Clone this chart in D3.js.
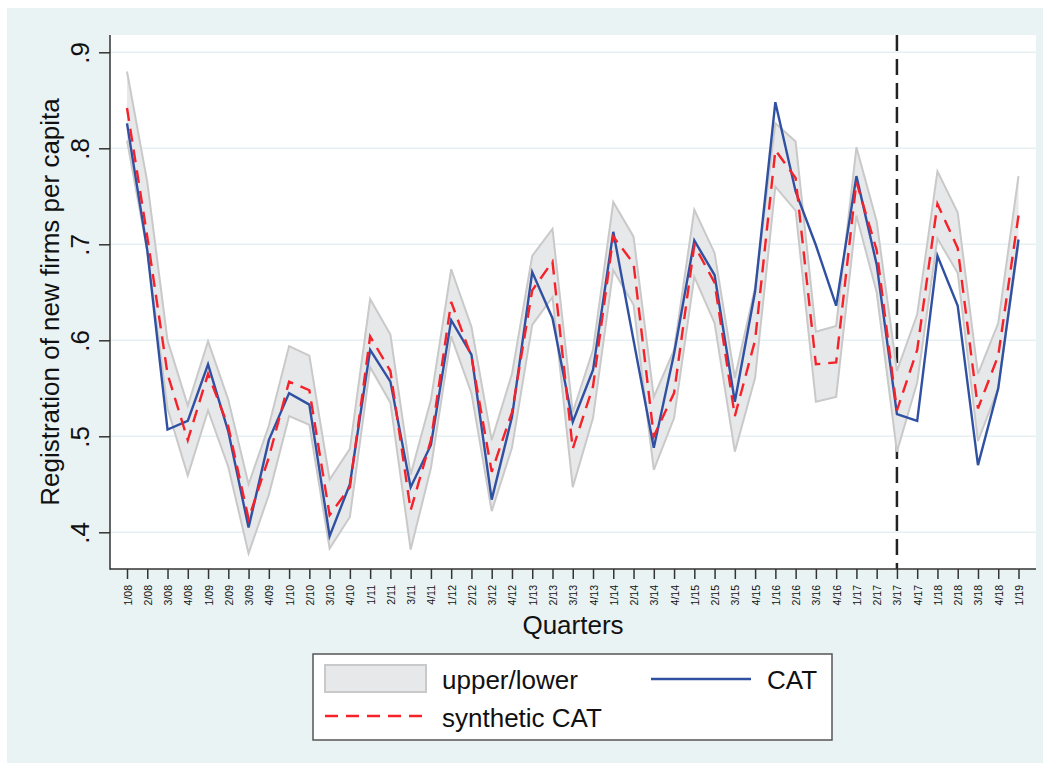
<!DOCTYPE html>
<meta charset="utf-8">

<style>

body {
  margin: 0;
  background: #fff;
}

text {
  font-family: "Liberation Sans", Arial, sans-serif;
  fill: #111;
}

.grid line {
  stroke: #e6f0f2;
  stroke-width: 1.5;
}

.band {
  fill: #e7e8e9;
}

.edge {
  fill: none;
  stroke: #c9c9c9;
  stroke-width: 2;
}

.cat {
  fill: none;
  stroke: #3050a2;
  stroke-width: 2.4;
}

.synth {
  fill: none;
  stroke: #f5222a;
  stroke-width: 2.4;
  stroke-dasharray: 13, 8;
}

</style>
<svg width="1050" height="771"></svg>
<script src="https://d3js.org/d3.v7.min.js"></script>
<script>

// quarters on the x axis
var quarters = ["1/08", "2/08", "3/08", "4/08", "1/09", "2/09", "3/09", "4/09",
  "1/10", "2/10", "3/10", "4/10", "1/11", "2/11", "3/11", "4/11",
  "1/12", "2/12", "3/12", "4/12", "1/13", "2/13", "3/13", "4/13",
  "1/14", "2/14", "3/14", "4/14", "1/15", "2/15", "3/15", "4/15",
  "1/16", "2/16", "3/16", "4/16", "1/17", "2/17", "3/17", "4/17",
  "1/18", "2/18", "3/18", "4/18", "1/19"];

var upper = [0.880, 0.765, 0.600, 0.532, 0.599, 0.538, 0.450, 0.511,
  0.594, 0.584, 0.455, 0.487, 0.643, 0.606, 0.460, 0.538,
  0.674, 0.614, 0.496, 0.565, 0.688, 0.716, 0.525, 0.590,
  0.744, 0.708, 0.541, 0.590, 0.736, 0.691, 0.561, 0.655,
  0.826, 0.807, 0.609, 0.615, 0.801, 0.724, 0.568, 0.627,
  0.776, 0.733, 0.565, 0.618, 0.771];

var lower = [0.808, 0.693, 0.529, 0.459, 0.527, 0.468, 0.378, 0.439,
  0.521, 0.512, 0.383, 0.416, 0.572, 0.535, 0.382, 0.467,
  0.604, 0.545, 0.422, 0.488, 0.616, 0.645, 0.447, 0.519,
  0.673, 0.637, 0.465, 0.519, 0.666, 0.618, 0.484, 0.561,
  0.760, 0.735, 0.536, 0.541, 0.730, 0.650, 0.484, 0.556,
  0.706, 0.670, 0.495, 0.550, 0.700];

var cat = [0.826, 0.694, 0.507, 0.516, 0.575, 0.505, 0.405, 0.496,
  0.545, 0.533, 0.396, 0.450, 0.590, 0.557, 0.447, 0.491,
  0.621, 0.585, 0.434, 0.520, 0.671, 0.623, 0.515, 0.569,
  0.713, 0.600, 0.488, 0.586, 0.704, 0.668, 0.536, 0.651,
  0.848, 0.755, 0.699, 0.636, 0.771, 0.679, 0.523, 0.516,
  0.688, 0.636, 0.470, 0.550, 0.705];

var synthetic = [0.842, 0.708, 0.565, 0.496, 0.565, 0.510, 0.414, 0.478,
  0.557, 0.548, 0.418, 0.447, 0.604, 0.568, 0.423, 0.496,
  0.640, 0.583, 0.463, 0.525, 0.652, 0.682, 0.487, 0.552,
  0.708, 0.680, 0.500, 0.545, 0.699, 0.660, 0.521, 0.600,
  0.798, 0.769, 0.575, 0.577, 0.765, 0.694, 0.527, 0.590,
  0.742, 0.696, 0.529, 0.584, 0.730];

var yTicks = [0.4, 0.5, 0.6, 0.7, 0.8, 0.9],
    treatQuarter = "3/17";

var svg = d3.select("svg"),
    width = +svg.attr("width"),
    height = +svg.attr("height");

var plotLeft = 110,
    plotRight = 1036,
    plotTop = 35,
    plotBottom = 569;

var x = d3.scalePoint().domain(quarters).range([127, 1018.5]),
    y = d3.scaleLinear().domain([0.4, 0.9]).range([532.3, 52.3]);

// outer graph region
svg.append("rect")
    .attr("x", 7).attr("y", 8)
    .attr("width", width - 14).attr("height", height - 16)
    .attr("fill", "#eaf3f4");

svg.append("rect")
    .attr("x", plotLeft).attr("y", plotTop)
    .attr("width", plotRight - plotLeft).attr("height", plotBottom - plotTop)
    .attr("fill", "#fff");

// horizontal grid
svg.append("g")
    .attr("class", "grid")
  .selectAll("line")
  .data(yTicks)
  .enter().append("line")
    .attr("x1", plotLeft).attr("x2", plotRight)
    .attr("y1", function(d) { return y(d); })
    .attr("y2", function(d) { return y(d); });

// treatment line, under the band
svg.append("line")
    .attr("x1", x(treatQuarter)).attr("x2", x(treatQuarter))
    .attr("y1", plotTop).attr("y2", plotBottom)
    .attr("stroke", "#222")
    .attr("stroke-width", 2.5)
    .attr("stroke-dasharray", "16,8");

var idx = d3.range(quarters.length);

var area = d3.area()
    .x(function(i) { return x(quarters[i]); })
    .y0(function(i) { return y(lower[i]); })
    .y1(function(i) { return y(upper[i]); });

function lineOf(values) {
  return d3.line()
      .x(function(i) { return x(quarters[i]); })
      .y(function(i) { return y(values[i]); });
}

svg.append("path").attr("class", "band").attr("d", area(idx));
svg.append("path").attr("class", "edge").attr("d", lineOf(upper)(idx));
svg.append("path").attr("class", "edge").attr("d", lineOf(lower)(idx));
svg.append("path").attr("class", "cat").attr("d", lineOf(cat)(idx));
svg.append("path").attr("class", "synth").attr("d", lineOf(synthetic)(idx));

// axes
var yAxis = svg.append("g")
    .attr("transform", "translate(" + plotLeft + ",0)")
    .call(d3.axisLeft(y).tickValues(yTicks).tickSize(11).tickPadding(0)
      .tickFormat(function(d) { return d3.format(".1f")(d).replace(/^0/, ""); }));

yAxis.select(".domain").remove();
yAxis.selectAll(".tick line").attr("stroke", "#333").attr("stroke-width", 1.5);
yAxis.selectAll(".tick text")
    .attr("x", null).attr("dy", null)
    .attr("text-anchor", "middle")
    .attr("transform", "translate(-21,0) rotate(-90)")
    .style("font-size", "26px");

var xAxis = svg.append("g")
    .attr("transform", "translate(0," + plotBottom + ")")
    .call(d3.axisBottom(x).tickSize(10).tickPadding(0));

xAxis.select(".domain").remove();
xAxis.selectAll(".tick line").attr("stroke", "#333").attr("stroke-width", 1.5);
xAxis.selectAll(".tick text")
    .attr("y", null).attr("dy", null)
    .attr("text-anchor", "end")
    .attr("transform", "translate(4,16) rotate(-90)")
    .style("font-size", "10.5px");

svg.append("line")
    .attr("x1", plotLeft).attr("x2", plotLeft)
    .attr("y1", plotTop).attr("y2", plotBottom + 0.75)
    .attr("stroke", "#333").attr("stroke-width", 1.5);

svg.append("line")
    .attr("x1", plotLeft).attr("x2", plotRight)
    .attr("y1", plotBottom).attr("y2", plotBottom)
    .attr("stroke", "#333").attr("stroke-width", 1.5);

// axis titles
svg.append("text")
    .attr("transform", "translate(59," + ((plotTop + plotBottom) / 2) + ") rotate(-90)")
    .attr("text-anchor", "middle")
    .style("font-size", "26px")
    .text("Registration of new firms per capita");

svg.append("text")
    .attr("x", (plotLeft + plotRight) / 2)
    .attr("y", 634)
    .attr("text-anchor", "middle")
    .style("font-size", "26px")
    .text("Quarters");

// legend
var legend = svg.append("g");

legend.append("rect")
    .attr("x", 313).attr("y", 654)
    .attr("width", 519).attr("height", 86)
    .attr("fill", "#fff")
    .attr("stroke", "#555")
    .attr("stroke-width", 1.5);

legend.append("rect")
    .attr("x", 325).attr("y", 665)
    .attr("width", 101).attr("height", 27)
    .attr("class", "band")
    .attr("stroke", "#c9c9c9")
    .attr("stroke-width", 2);

legend.append("line")
    .attr("class", "synth")
    .attr("x1", 325).attr("x2", 426)
    .attr("y1", 716).attr("y2", 716)
    .attr("stroke-dasharray", "15,8");

legend.append("line")
    .attr("class", "cat")
    .attr("x1", 651).attr("x2", 751)
    .attr("y1", 679).attr("y2", 679);

legend.append("text").attr("x", 442).attr("y", 689).style("font-size", "26px").text("upper/lower");
legend.append("text").attr("x", 442).attr("y", 727).style("font-size", "26px").text("synthetic CAT");
legend.append("text").attr("x", 767).attr("y", 689).style("font-size", "26px").text("CAT");

</script>
